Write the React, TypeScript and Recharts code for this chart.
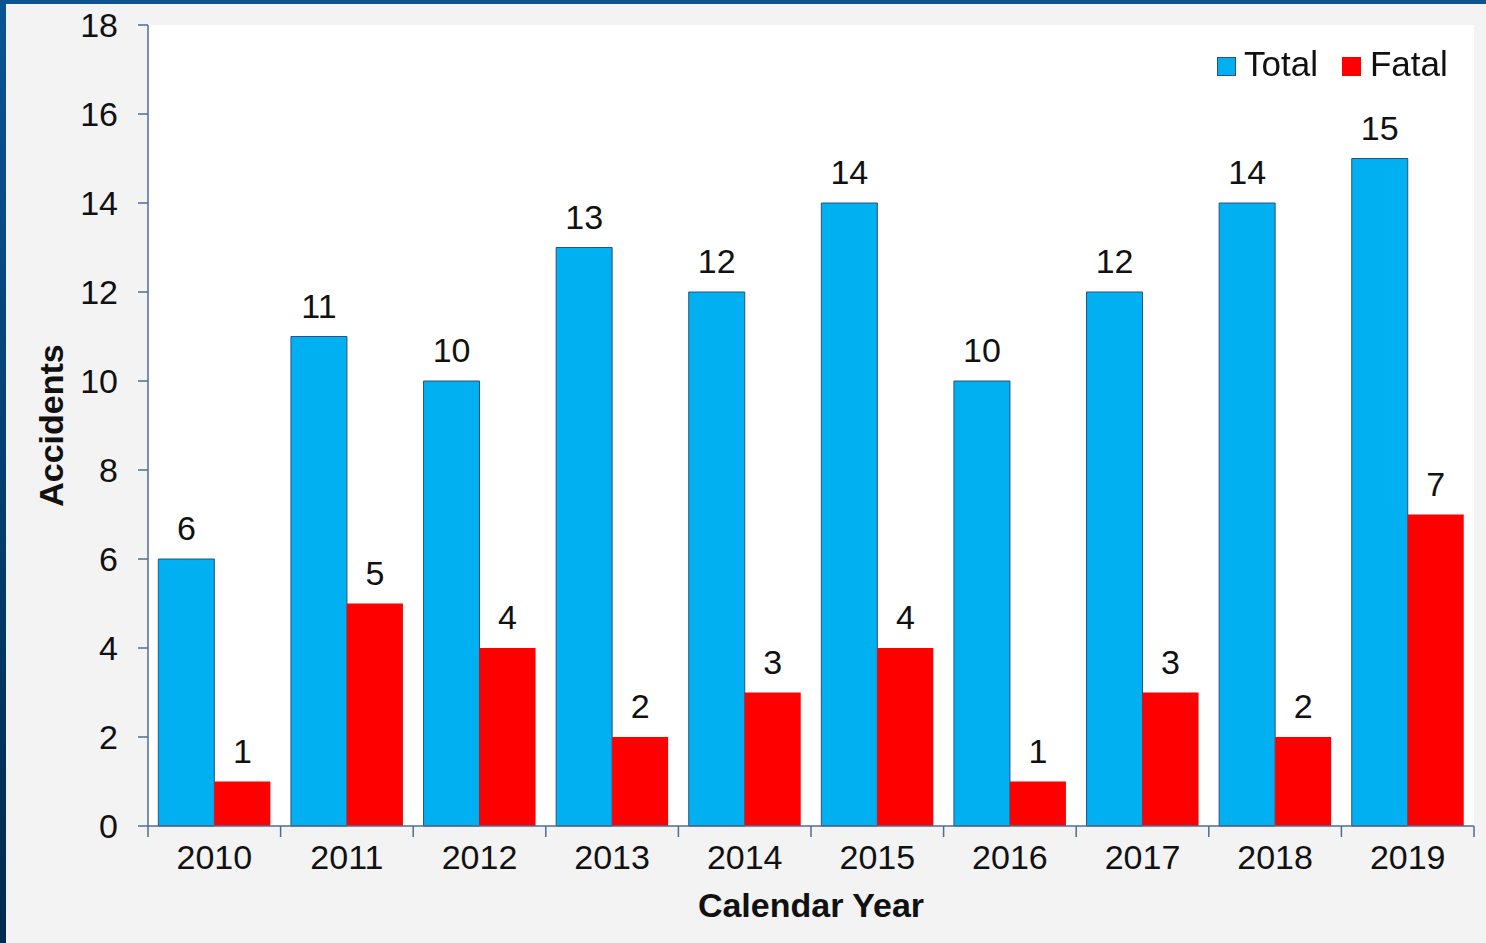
import React from 'react';
import { BarChart, Bar, XAxis, YAxis, CartesianGrid, LabelList, Legend } from 'recharts';

const years = ['2010', '2011', '2012', '2013', '2014', '2015', '2016', '2017', '2018', '2019'];
const totalAccidents = [6, 11, 10, 13, 12, 14, 10, 12, 14, 15];
const fatalAccidents = [1, 5, 4, 2, 3, 4, 1, 3, 2, 7];
const yTicks = [0, 2, 4, 6, 8, 10, 12, 14, 16, 18];

const data = years.map((year, i) => ({ year, total: totalAccidents[i], fatal: fatalAccidents[i] }));

const W = 1486;
const H = 943;
const PLOT_LEFT = 148;
const PLOT_RIGHT = 1474;
const PLOT_TOP = 25;
const PLOT_BOTTOM = 826;
const BAND = (PLOT_RIGHT - PLOT_LEFT) / years.length;
const FONT = '"Liberation Sans", Arial, sans-serif';
const AXIS = '#4f6d95';
const BLUE = '#00B0F0';
const RED = '#FF0000';

const XTick = (props: any) => {
  const { x, y, payload, index } = props;
  const isLast = index === years.length - 1;
  return (
    <g>
      <line x1={x - BAND / 2} x2={x - BAND / 2} y1={y} y2={y + 11} stroke={AXIS} strokeWidth={1.5} />
      {isLast && <line x1={x + BAND / 2} x2={x + BAND / 2} y1={y} y2={y + 11} stroke={AXIS} strokeWidth={1.5} />}
      <text x={x} y={y + 43} textAnchor="middle" fontSize={34} fill="#111" fontFamily={FONT}>
        {payload.value}
      </text>
    </g>
  );
};

const LegendContent = () => (
  <div style={{ display: 'flex', alignItems: 'flex-start', fontFamily: FONT, fontSize: 35, lineHeight: '34px', color: '#111' }}>
    <span style={{ width: 17, height: 17, background: BLUE, border: '1px solid #2f4f7f', marginTop: 10, marginRight: 8 }} />
    <span>Total</span>
    <span style={{ width: 19, height: 19, background: RED, marginTop: 10, marginLeft: 24, marginRight: 9 }} />
    <span>Fatal</span>
  </div>
);

export default function App() {
  return (
    <div style={{ position: 'fixed', left: 0, top: 0, width: W, height: H, background: 'linear-gradient(to bottom, #0b5494, #002a4e)' }}>
      <div style={{ position: 'absolute', left: 6, top: 4, right: 0, bottom: 0, background: '#f3f3f3' }} />
      <div style={{ position: 'absolute', left: 0, top: 0 }}>
        <BarChart
          width={W}
          height={H}
          data={data}
          margin={{ top: PLOT_TOP, right: W - PLOT_RIGHT, left: 0, bottom: 0 }}
          barCategoryGap="7.8%"
          barGap={0}
        >
          <CartesianGrid horizontal={false} vertical={false} fill="#ffffff" />
          <XAxis
            dataKey="year"
            height={H - PLOT_BOTTOM}
            tickLine={false}
            tickSize={0}
            tickMargin={0}
            axisLine={{ stroke: AXIS, strokeWidth: 1.5 }}
            tick={<XTick />}
            interval={0}
            label={{ value: 'Calendar Year', position: 'insideBottom', offset: 26, fontSize: 34, fontWeight: 'bold', fill: '#111', fontFamily: FONT }}
          />
          <XAxis xAxisId="top" orientation="top" dataKey="year" height={0} tick={false} tickLine={false} axisLine={{ stroke: '#bfbfbf', strokeWidth: 1.5 }} />
          <YAxis
            width={PLOT_LEFT}
            domain={[0, 18]}
            ticks={yTicks}
            interval={0}
            tickSize={10}
            tickMargin={20}
            tickLine={{ stroke: AXIS, strokeWidth: 1.5 }}
            axisLine={{ stroke: AXIS, strokeWidth: 1.5 }}
            tick={{ fontSize: 34, fill: '#111', fontFamily: FONT }}
            label={{ value: 'Accidents', angle: -90, position: 'insideLeft', offset: 51, textAnchor: 'middle', fontSize: 34, fontWeight: 'bold', fill: '#111', fontFamily: FONT }}
          />
          <YAxis yAxisId="right" orientation="right" width={0} tick={false} tickLine={false} axisLine={{ stroke: '#bfbfbf', strokeWidth: 1.5 }} />
          <Legend
            layout="horizontal"
            verticalAlign="middle"
            align="center"
            content={<LegendContent />}
            wrapperStyle={{ left: 1217, top: 47, width: 270 }}
          />
          <Bar dataKey="total" name="Total" fill={BLUE} stroke="#2f4f7f" strokeWidth={1} isAnimationActive={false}>
            <LabelList dataKey="total" position="top" offset={19} fontSize={34} fill="#111" fontFamily={FONT} />
          </Bar>
          <Bar dataKey="fatal" name="Fatal" fill={RED} isAnimationActive={false}>
            <LabelList dataKey="fatal" position="top" offset={19} fontSize={34} fill="#111" fontFamily={FONT} />
          </Bar>
        </BarChart>
      </div>
    </div>
  );
}
